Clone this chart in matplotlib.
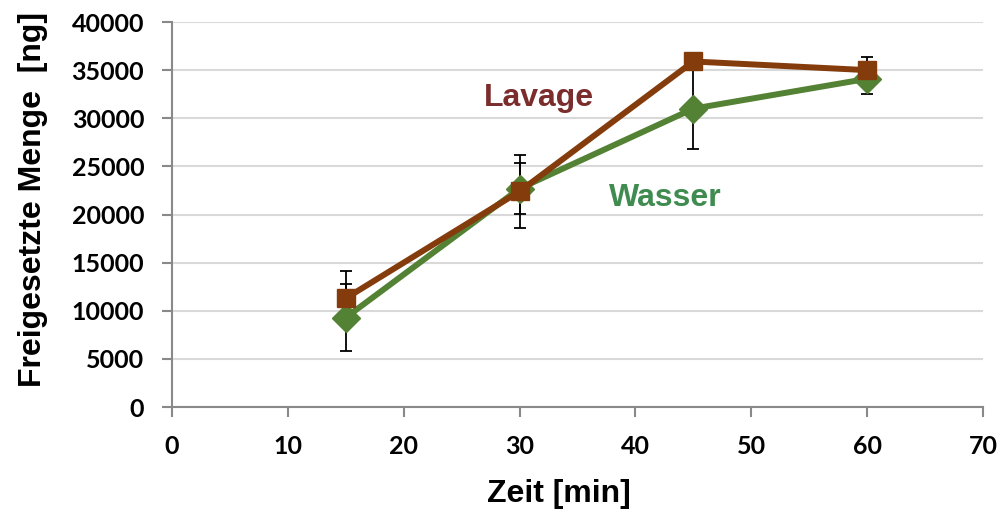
import matplotlib.pyplot as plt

# release measured over time, two media
zeit = [15, 30, 45, 60]
lavage = [11300, 22400, 35900, 35000]
lavage_err = [2800, 3750, 500, 1350]
wasser = [9300, 22700, 31000, 34100]
wasser_err = [3450, 2650, 4200, 1600]

brown = '#843C0C'
green = '#548235'
axis_grey = '#898989'

fig = plt.figure(figsize=(10, 5.12), dpi=100)
ax = fig.add_axes([0.172, 0.205, 0.811, 0.752])

# error bars go underneath the markers
ax.errorbar(zeit, wasser, yerr=wasser_err, fmt='none', ecolor='black',
            elinewidth=1.3, capsize=4.5, capthick=1.3, zorder=2)
ax.errorbar(zeit, lavage, yerr=lavage_err, fmt='none', ecolor='black',
            elinewidth=1.3, capsize=4.5, capthick=1.3, zorder=2)

ax.plot(zeit, wasser, color=green, lw=4.3, marker='D', ms=14,
        mfc=green, mec=green, zorder=3)
ax.plot(zeit, lavage, color=brown, lw=4.3, marker='s', ms=13,
        mfc=brown, mec=brown, zorder=4)

ax.set_xlim(0, 70)
ax.set_ylim(0, 40000)
ax.set_xticks(range(0, 71, 10))
ax.set_yticks(range(0, 40001, 5000))

ax.grid(axis='y', color='#D9D9D9', lw=1.5)
ax.set_axisbelow(True)
for s in ['top', 'right']:
    ax.spines[s].set_visible(False)
for s in ['left', 'bottom']:
    ax.spines[s].set_color(axis_grey)
    ax.spines[s].set_linewidth(1.5)
ax.tick_params(colors=axis_grey, width=1.5, length=7, labelcolor='black',
               labelsize=18)
ax.tick_params(axis='y', pad=13)
ax.tick_params(axis='x', pad=13)
for lbl in ax.get_xticklabels() + ax.get_yticklabels():
    lbl.set_family('Lato')
    lbl.set_fontweight('bold')

ax.set_xlabel('Zeit [min]', fontsize=23, fontweight='bold',
              family='Liberation Sans')
ax.set_ylabel('Freigesetzte Menge  [ng]', fontsize=23, fontweight='bold',
              family='Liberation Sans')
ax.xaxis.set_label_coords(0.477, -0.188)
ax.yaxis.set_label_coords(-0.153, 0.538)

fig.text(0.539, 1 - 98 / 512, 'Lavage', color='#7B2C2C', fontsize=23,
         fontweight='bold', family='Liberation Sans', ha='center', va='center')
fig.text(0.665, 1 - 198 / 512, 'Wasser', color='#3F8B50', fontsize=23,
         fontweight='bold', family='Liberation Sans', ha='center', va='center')

fig.savefig('out.png')
